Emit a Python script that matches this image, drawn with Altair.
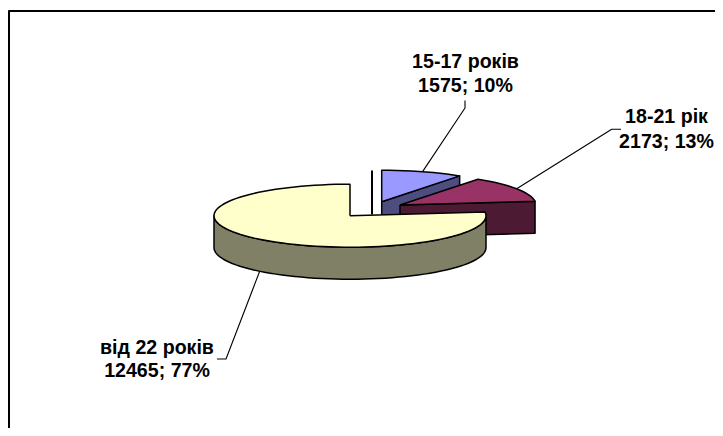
import math
import altair as alt
import pandas as pd

# Data
categories = ["15-17 років", "18-21 рік", "від 22 років"]
values = [1575, 2173, 12465]
percents = [10, 13, 77]
top_colors = ["#9999FF", "#993366", "#FFFFCC"]
side_colors = ["#4D4D80", "#4D1A33", "#808066"]

# Layout, in page pixels
W, H = 707, 420
CX, CY = 350.0, 215.7
RX, RY = 136.0, 31.5
DEPTH = 32.0
OFFSETS = [(31.7, -14.0), (50.0, -10.7), (0.0, 0.0)]
FONT_SIZE = 19.6
LW = 1.5

total = sum(values)
angles = [0.0]
for v in values:
    angles.append(angles[-1] + v / total * 360.0)


def apex(i):
    return CX + OFFSETS[i][0], CY + OFFSETS[i][1]


def rim(i, a, drop=0.0):
    ax, ay = apex(i)
    r = math.radians(a)
    return ax + RX * math.sin(r), ay - RY * math.cos(r) + drop


def arc(i, a0, a1, drop=0.0):
    n = max(2, int(abs(a1 - a0) / 3))
    return [rim(i, a0 + (a1 - a0) * k / n, drop) for k in range(n + 1)]


x_scale = alt.Scale(domain=[8, 8 + W], range=[0, W], nice=False, zero=False)
y_scale = alt.Scale(domain=[8, 8 + H], range=[0, H], nice=False, zero=False)


def path_layer(points, stroke="black", width=LW, fill=None):
    df = pd.DataFrame({"x": [p[0] for p in points], "y": [p[1] for p in points], "i": range(len(points))})
    kw = {"stroke": stroke, "strokeWidth": width, "strokeJoin": "round", "clip": False}
    if fill:
        kw["fill"] = fill
    return alt.Chart(df).mark_line(**kw).encode(
        x=alt.X("x:Q", scale=x_scale, axis=None),
        y=alt.Y("y:Q", scale=y_scale, axis=None),
        order="i:Q",
    )


def close(pts):
    return pts + [pts[0]]


layers = []

# Frame (left and top edges are what shows in the window)
layers.append(path_layer([(9, 8 + H), (9, 11), (8 + W, 11)], width=2))

# Blue slice
a0, a1 = angles[0], angles[1]
p = apex(0)
e = rim(0, a1)
layers.append(path_layer(close([p, e, (e[0], e[1] + DEPTH), (p[0], p[1] + DEPTH)]), fill=side_colors[0]))
layers.append(path_layer(close([p] + arc(0, a0, a1)), fill=top_colors[0]))

# Maroon slice
a0, a1 = angles[1], angles[2]
p = apex(1)
e = rim(1, a1)
layers.append(path_layer(close([p, e, (e[0], e[1] + DEPTH), (p[0], p[1] + DEPTH)]), fill=side_colors[1]))
layers.append(path_layer(close([p] + arc(1, a0, a1)), fill=top_colors[1]))

# Yellow slice
a0, a1 = angles[2], angles[3]
p = apex(2)
layers.append(path_layer(close(arc(2, 90, 270) + arc(2, 270, 90, DEPTH)), fill=side_colors[2]))
layers.append(path_layer(close([p] + arc(2, a0, a1)), fill=top_colors[2]))

# Vertical line left of the blue slice
layers.append(path_layer([(372, 170.5), (372, 214.5)], width=2))

# Leader lines start at the mid angle of each slice
m0 = (angles[0] + angles[1]) / 2
m1 = (angles[1] + angles[2]) / 2
m2 = (angles[2] + angles[3]) / 2
layers.append(path_layer([rim(0, m0), (465, 108), (465, 100.5)], width=1.1))
layers.append(path_layer([rim(1, m1), (611.7, 129.3), (621, 129.3)], width=1.1))
layers.append(path_layer([rim(2, m2, DEPTH), (226, 359), (217, 359)], width=1.1))

# Labels
label_pos = [(465.5, 61.5, 85.5), (666.5, 116.5, 142), (157, 347.5, 371)]
rows = []
for c, v, pc, (lx, y1, y2) in zip(categories, values, percents, label_pos):
    rows.append({"x": lx, "y": y1, "t": c})
    rows.append({"x": lx, "y": y2, "t": f"{v}; {pc}%"})
layers.append(
    alt.Chart(pd.DataFrame(rows))
    .mark_text(font="Liberation Sans", fontWeight="bold", fontSize=FONT_SIZE, color="black", align="center", baseline="middle")
    .encode(
        x=alt.X("x:Q", scale=x_scale, axis=None),
        y=alt.Y("y:Q", scale=y_scale, axis=None),
        text="t:N",
    )
)

chart = (
    alt.layer(*layers)
    .properties(width=W, height=H, padding=0, autosize=alt.AutoSizeParams(type="none"), background="white")
    .configure_view(stroke=None)
)
chart.save("out.html", embed_options={"renderer": "svg", "actions": False})
